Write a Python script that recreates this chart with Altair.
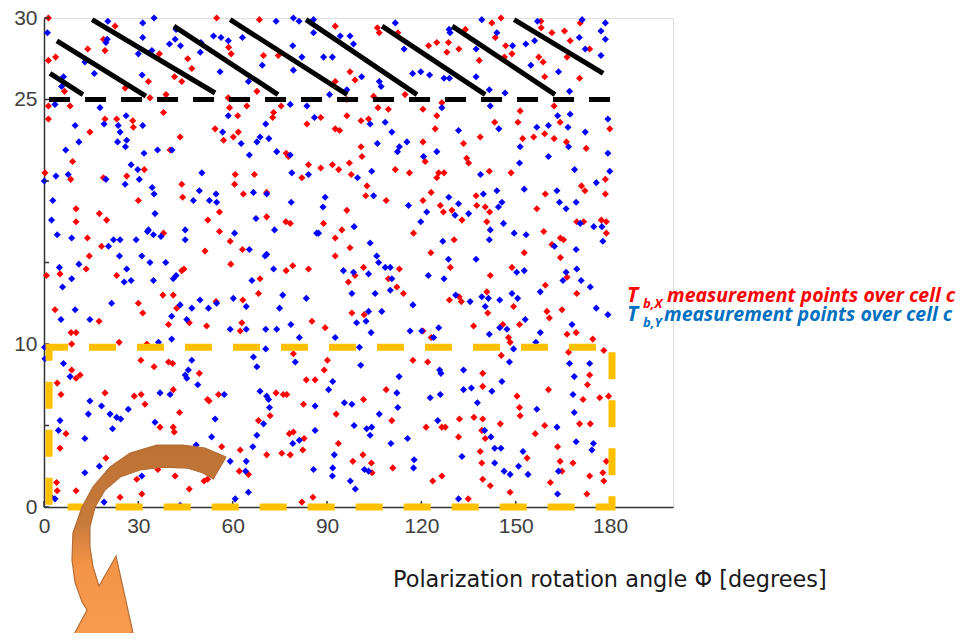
import altair as alt
import pandas as pd

# ---------------- data (phi in degrees, second value on the 0-30 scale) ----------------
red_upper = [
    [1.4,30.0],[1.4,27.4],[3.7,27.6],[13.9,28.1],[19.4,28.0],[18.9,28.7],[22.6,29.5],[36.7,27.8],
    [33.7,25.1],[38.8,25.3],[43.8,26.1],[45.7,27.5],[47.0,26.9],[41.5,26.4],[54.9,30.0],[58.7,28.2],
    [59.5,27.8],[68.5,29.9],[69.8,27.7],[74.5,27.7],[67.7,25.5],[58.6,25.1],[59.0,24.5],[61.6,24.0],
    [64.5,24.6],[73.0,24.2],[72.7,23.9],[75.4,24.6],[54.4,23.2],[60.2,22.7],[61.8,23.0],[57.1,22.5],
    [83.6,23.5],[1.4,24.6],[1.4,23.8],[8.3,24.6],[6.5,25.5],[14.6,23.0],[19.4,23.8],[23.1,23.8],
    [25.8,25.7],[28.2,23.7],[28.4,23.3],[33.2,26.1],[38.0,24.2],[43.3,22.7],[40.1,21.9],[0.3,20.5],
    [9.1,21.2],[8.5,20.1],[18.9,20.2],[26.3,20.3],[31.9,20.7],[43.8,19.8],[60.8,20.4],[60.6,19.8],
    [66.9,20.4],[77.0,21.7],[77.7,21.5],[82.0,20.2],[84.1,21.0],[44.1,19.0],[63.4,19.2],[70.8,19.3],
    [92.6,29.5],[106.0,29.4],[106.6,29.1],[112.5,29.1],[124.9,28.5],[122.3,28.3],[128.6,28.5],[128.1,27.9],
    [131.9,28.1],[134.0,29.3],[142.4,29.7],[145.3,30.0],[143.5,28.8],[146.8,28.3],[148.8,27.8],[146.4,27.6],
    [138.4,27.4],[158.0,29.8],[158.1,29.4],[161.5,29.1],[165.5,29.2],[167.3,28.6],[170.5,29.7],[166.3,27.6],
    [173.5,28.1],[157.3,27.6],[158.7,27.3],[159.2,26.4],[170.3,26.3],[97.3,26.7],[98.9,26.2],[92.6,26.1],
    [96.3,25.0],[104.8,25.2],[114.8,25.3],[126.5,24.8],[120.5,24.4],[124.9,24.0],[106.2,24.5],[109.5,24.4],
    [100.8,23.7],[103.2,23.8],[92.6,23.2],[94.0,23.1],[88.0,23.9],[96.3,24.0],[124.4,23.2],[133.4,22.3],
    [138.7,22.7],[143.3,23.6],[150.7,23.6],[151.4,24.3],[152.2,22.6],[155.7,22.7],[159.2,22.9],[162.2,24.6],
    [164.1,23.6],[162.2,22.6],[166.1,22.4],[172.4,22.0],[179.9,23.2],[100.8,22.1],[101.1,21.5],[97.1,21.1],
    [91.7,21.0],[93.7,20.7],[88.0,20.8],[97.7,20.4],[102.7,19.7],[102.3,19.1],[111.7,20.7],[116.2,20.5],
    [120.5,22.4],[121.2,21.2],[124.9,20.2],[125.5,20.5],[127.2,20.5],[134.4,21.4],[135.0,21.1],[123.1,19.3],
    [137.4,19.1],[141.6,20.6],[148.5,20.5],[159.4,19.2],[170.9,19.7],[172.0,19.4],[178.5,20.1],[178.5,19.2],
]
red_middle = [
    [10.2,18.3],[10.2,17.5],[17.6,18.0],[19.9,17.6],[13.8,16.5],[14.4,15.4],[18.3,16.0],[13.4,14.6],
    [0.8,14.2],[5.1,14.3],[23.1,14.2],[30.0,18.8],[38.0,16.8],[43.8,14.5],[44.5,14.6],[37.8,13.0],
    [41.1,13.0],[30.0,12.5],[31.4,11.9],[17.5,11.4],[3.5,12.1],[51.2,15.7],[52.1,17.6],[55.8,16.9],
    [55.8,18.1],[59.2,16.3],[63.1,15.8],[59.4,14.9],[63.2,12.7],[68.2,13.1],[68.7,14.0],[70.8,17.8],
    [76.9,17.5],[78.3,17.4],[77.0,14.5],[79.1,14.8],[84.1,14.6],[62.9,11.3],[51.7,11.1],[46.2,11.3],
    [39.6,11.2],[42.2,12.2],[54.7,12.6],[85.2,11.4],
    [108.8,18.8],[96.3,18.2],[88.9,17.4],[92.6,16.5],[94.7,17.0],[97.3,15.9],[92.6,15.4],[96.8,13.8],
    [98.9,14.2],[101.6,14.7],[109.5,14.0],[113.0,14.6],[112.2,13.5],[114.3,13.1],[97.9,11.9],[101.8,11.8],
    [117.5,16.8],[120.5,18.8],[126.0,18.5],[127.0,18.1],[130.4,16.4],[129.2,14.7],[129.7,18.2],[132.9,17.6],
    [123.0,15.6],[128.9,12.7],[132.0,12.9],[132.7,12.6],[137.6,18.5],[140.3,18.4],[140.8,17.5],[141.7,18.1],
    [141.9,14.2],[140.8,13.2],[148.8,14.7],[152.7,15.6],[149.3,12.3],[151.2,11.2],[156.7,18.3],[158.9,16.9],
    [161.5,16.1],[164.2,16.5],[165.2,16.4],[164.2,15.3],[166.3,14.1],[159.4,13.6],[159.9,12.0],[160.7,11.6],
    [164.7,12.1],[169.4,17.5],[171.6,17.5],[169.4,13.1],[177.2,17.6],[178.8,17.5],[178.8,16.8],[141.1,11.9],
]
red_lower = [
    [8.6,10.7],[10.2,10.7],[8.8,10.0],[23.9,10.1],[32.7,10.0],[8.8,8.4],[11.5,8.1],[10.2,7.9],
    [4.2,7.6],[5.4,6.9],[19.4,7.0],[28.7,6.8],[30.9,6.9],[32.1,6.3],[30.8,9.0],[35.0,8.6],
    [39.6,8.9],[40.9,8.8],[41.1,7.2],[49.4,8.2],[52.0,6.6],[52.5,6.5],[55.5,6.9],[43.1,5.8],
    [36.9,4.9],[41.1,4.9],[41.4,4.6],[29.5,1.7],[31.1,0.8],[36.2,2.3],[41.7,1.9],[46.2,1.1],
    [50.9,1.6],[52.0,1.7],[56.5,3.7],[62.4,3.5],[68.2,5.3],[71.9,5.6],[75.6,3.3],[78.3,3.2],
    [78.0,4.5],[79.3,4.6],[82.3,3.5],[82.7,4.2],[83.4,7.8],[86.2,7.8],[82.5,6.3],[77.2,6.9],
    [73.8,7.0],[76.1,6.9],[65.0,2.0],[62.1,2.2],[70.8,3.2],[85.5,0.6],[82.0,0.3],[4.0,1.5],
    [4.2,1.0],[10.2,1.0],[19.7,3.0],[24.2,0.6],[7.0,4.5],[5.1,3.6],[62.4,10.8],[79.3,9.4],
    [89.4,11.0],[90.1,9.0],[89.1,8.4],[92.9,5.7],[93.6,3.9],[98.2,2.8],[101.4,3.2],[104.1,2.7],
    [104.3,2.1],[101.6,6.6],[108.8,7.2],[110.6,5.3],[110.9,2.4],[117.3,9.0],[122.0,8.9],[120.5,10.8],
    [123.1,10.4],[136.6,11.1],[145.9,11.2],[147.7,10.4],[148.2,10.1],[145.4,9.3],[139.5,8.2],[139.5,7.4],
    [136.7,5.5],[139.5,5.4],[139.2,4.7],[140.3,4.2],[138.7,3.4],[139.2,2.7],[139.5,1.7],[145.1,5.1],
    [132.1,5.4],[131.8,4.3],[126.5,4.9],[127.6,4.9],[121.5,4.9],[123.6,1.6],[126.5,1.9],[134.9,0.5],
    [141.9,1.3],[148.2,0.9],[150.4,6.8],[151.2,6.1],[151.4,5.6],[153.6,3.0],[156.2,4.5],[159.2,5.0],
    [160.4,7.2],[161.0,1.5],[164.1,2.8],[164.7,2.2],[168.2,2.7],[163.3,3.7],[166.3,10.6],[169.2,10.7],
    [166.8,9.5],[174.5,10.3],[170.3,5.1],[173.7,5.1],[172.8,7.5],[171.4,6.6],[173.5,1.9],[172.6,0.8],
    [173.5,8.1],[176.7,6.7],[179.5,6.8],[178.0,9.6],[177.7,2.1],[178.0,1.6],[178.8,2.8],
]
blue_upper = [
    [1.1,29.1],[20.3,29.8],[31.4,29.7],[35.0,30.0],[19.7,28.5],[20.1,28.7],[31.4,28.8],[30.0,27.8],
    [34.3,28.0],[39.9,28.4],[41.7,28.7],[43.4,28.3],[42.0,29.3],[49.9,28.5],[49.7,27.9],[53.9,28.9],
    [56.3,28.8],[58.6,28.6],[63.1,28.8],[73.8,29.8],[79.3,30.0],[81.1,29.8],[79.1,28.3],[79.3,26.8],
    [82.0,27.6],[69.4,27.1],[65.0,26.1],[56.0,26.7],[31.2,26.5],[16.0,26.6],[13.0,27.3],[6.2,26.4],
    [5.6,25.8],[3.5,24.7],[17.8,24.5],[19.1,23.5],[23.6,23.4],[24.2,23.0],[26.1,24.0],[31.4,23.4],
    [23.4,22.4],[26.3,22.5],[25.9,22.1],[9.9,23.4],[11.1,22.4],[6.9,21.9],[7.7,20.4],[3.8,20.3],
    [0.1,20.0],[19.7,20.1],[25.8,19.8],[27.7,21.0],[29.8,20.7],[30.3,20.1],[31.8,21.7],[36.1,21.9],
    [40.7,21.9],[34.4,19.6],[35.0,19.2],[50.2,20.5],[49.4,19.4],[54.7,19.2],[56.8,23.0],[58.6,24.0],
    [62.7,22.3],[65.3,21.6],[67.7,22.4],[68.7,22.7],[71.5,22.6],[70.5,23.5],[74.0,21.8],[78.3,21.6],
    [78.8,20.5],[84.1,20.4],[83.6,24.6],[78.3,24.7],[66.6,19.3],[70.8,19.2],
    [85.7,29.9],[85.7,29.1],[97.3,28.9],[98.4,28.4],[94.2,28.9],[111.7,29.7],[114.5,28.1],[128.8,29.3],
    [129.1,29.1],[137.4,28.1],[139.2,29.9],[144.0,29.1],[149.0,28.3],[153.2,28.4],[156.0,28.6],[156.9,29.8],
    [171.1,29.9],[170.2,28.8],[172.1,28.1],[177.1,29.2],[178.5,28.7],[178.5,29.7],[177.1,27.7],[154.8,27.1],
    [163.6,26.7],[167.1,25.5],[137.4,26.4],[141.6,25.6],[146.6,25.4],[127.2,26.3],[128.9,26.3],[122.6,26.5],
    [119.8,26.7],[117.2,26.6],[101.0,26.4],[106.6,26.1],[107.2,25.8],[96.3,25.6],[90.8,25.3],[88.9,27.6],
    [91.7,27.6],[86.0,23.9],[103.7,23.5],[108.5,23.6],[110.6,23.0],[106.0,22.3],[113.0,22.1],[112.4,21.8],
    [115.4,22.4],[124.9,21.8],[120.7,21.5],[131.8,23.1],[144.6,23.2],[141.9,24.6],[126.5,24.5],[151.4,22.1],
    [156.7,23.3],[160.4,23.4],[166.6,23.3],[167.3,24.1],[163.3,24.0],[166.8,22.1],[172.1,23.0],[179.3,23.8],
    [179.3,21.7],[179.9,20.6],[175.6,19.9],[168.7,20.7],[160.4,21.5],[151.2,21.1],[138.8,20.4],[139.7,19.2],
    [144.0,19.4],[152.7,19.5],[163.1,19.4],[128.7,19.0],[104.2,20.6],[99.7,20.2],[104.8,19.1],[89.4,19.0],
]
blue_middle = [
    [2.8,18.8],[2.4,17.6],[4.2,16.7],[8.8,16.5],[11.1,14.9],[4.9,14.7],[5.9,13.5],[8.8,14.0],
    [9.9,12.1],[5.4,11.5],[14.6,11.5],[21.5,12.5],[24.2,16.4],[22.1,16.4],[20.5,16.0],[24.0,15.4],
    [26.3,14.6],[25.5,13.8],[27.7,13.9],[31.1,15.4],[29.3,16.4],[33.7,15.0],[34.8,13.9],[33.2,17.0],
    [32.9,16.9],[34.8,16.7],[35.3,18.0],[37.2,16.6],[38.7,15.0],[42.0,14.2],[41.1,14.0],[43.3,12.4],
    [47.0,12.2],[40.6,11.7],[45.4,11.5],[49.6,12.7],[52.3,12.2],[54.9,12.5],[44.9,17.0],[44.9,16.4],
    [47.5,18.8],[52.6,18.8],[54.9,18.7],[60.6,16.8],[65.3,15.8],[67.4,17.7],[70.3,15.4],[70.8,15.5],
    [73.3,17.0],[73.0,14.6],[75.9,13.0],[74.9,12.2],[78.6,18.7],[66.1,13.9],[64.3,12.3],[60.2,12.8],
    [83.4,12.8],[86.7,16.8],[78.5,11.2],
    [88.7,18.4],[98.6,17.2],[87.3,16.8],[103.7,16.2],[105.8,15.4],[106.4,15.0],[108.5,14.7],[110.1,14.7],
    [110.6,14.0],[95.2,14.5],[98.4,14.4],[103.2,14.3],[97.9,13.1],[105.3,13.1],[110.1,13.3],[117.3,12.4],
    [107.4,12.0],[103.2,12.0],[102.4,11.4],[99.4,11.3],[115.9,18.5],[121.7,18.1],[119.8,17.5],[126.8,16.3],
    [128.6,15.2],[127.2,14.0],[122.2,14.2],[131.8,18.6],[130.7,17.9],[135.0,18.0],[145.6,18.7],[144.5,18.4],
    [141.9,17.0],[141.6,16.4],[137.4,15.2],[146.1,17.4],[149.5,16.8],[153.3,16.7],[150.3,14.4],[152.7,14.5],
    [148.8,13.1],[150.6,12.8],[144.9,12.7],[139.2,12.9],[141.3,12.8],[140.3,12.3],[135.5,12.6],[130.9,13.0],
    [157.8,13.2],[165.0,13.9],[166.0,14.4],[170.8,13.9],[173.7,13.5],[169.4,14.6],[169.2,15.8],[162.3,16.0],
    [163.9,18.7],[166.0,18.3],[169.2,18.7],[177.7,16.3],[177.4,17.2],[174.8,17.2],[170.5,17.4],[175.6,12.2],
    [179.3,11.8],[167.9,11.2],[153.0,11.5],
]
blue_lower = [
    [0.2,9.8],[0.3,9.1],[6.2,8.8],[8.3,8.0],[14.1,5.7],[14.6,6.5],[18.3,6.2],[21.0,5.7],
    [23.1,5.5],[24.4,5.4],[26.8,6.0],[21.8,4.8],[13.0,4.2],[5.1,5.3],[4.6,4.7],[36.9,7.0],
    [40.1,6.9],[35.3,5.2],[36.4,10.1],[40.6,10.3],[47.0,9.0],[45.9,8.4],[44.9,8.1],[45.4,7.9],
    [48.9,7.5],[48.4,3.8],[53.3,4.3],[54.4,5.4],[57.3,6.9],[59.2,2.8],[60.8,0.5],[64.3,2.8],
    [64.1,2.2],[65.0,0.9],[66.4,3.7],[67.7,4.4],[69.8,5.1],[71.4,6.6],[71.7,6.1],[68.7,7.1],
    [70.8,6.8],[66.6,9.2],[67.7,8.6],[59.2,10.9],[64.3,10.9],[70.5,10.9],[74.0,10.9],[70.5,9.7],
    [81.2,10.4],[79.9,8.9],[79.1,3.9],[81.2,4.1],[85.7,2.3],[86.2,4.7],[86.2,6.2],[13.0,2.1],
    [17.6,2.5],[31.1,1.9],[2.4,0.6],[3.5,0.5],[19.1,0.3],[43.3,0.1],
    [92.6,10.4],[104.0,10.7],[116.4,10.8],[120.1,10.8],[123.9,10.4],[125.5,11.0],[100.7,8.7],[100.3,9.8],
    [91.8,7.7],[90.5,7.2],[95.5,6.4],[97.9,6.3],[91.8,2.4],[91.7,1.9],[92.3,3.2],[97.4,1.6],
    [99.0,1.1],[101.9,2.3],[103.2,2.2],[104.2,4.9],[102.6,4.8],[98.6,5.0],[103.7,4.4],[106.6,5.7],
    [110.3,3.9],[112.2,7.0],[112.5,6.1],[112.9,8.0],[115.6,4.2],[117.7,2.9],[117.5,2.4],[122.8,6.7],
    [126.0,6.9],[125.8,8.4],[126.2,8.2],[125.2,5.3],[132.9,3.1],[133.4,7.2],[135.9,7.3],[133.4,8.4],
    [131.8,0.5],[137.8,6.4],[140.1,4.7],[142.1,4.3],[142.4,7.1],[141.6,10.6],[144.9,11.0],[147.2,10.9],
    [148.0,8.9],[145.6,7.7],[149.3,9.7],[156.4,10.1],[157.8,10.7],[167.1,8.8],[168.6,8.0],[168.2,6.9],
    [168.6,5.8],[163.1,4.9],[169.2,4.0],[174.7,3.9],[174.2,3.5],[173.5,8.8],[163.3,0.8],[156.7,6.0],
    [143.3,3.6],[145.3,3.6],[143.3,2.7],[146.3,2.2],[148.2,2.0],[150.9,2.5],[152.3,3.4],[153.9,2.0],
    [163.6,2.2],
]

x_ticks = [0, 30, 60, 90, 120, 150, 180]
y_ticks = [0, 5, 10, 15, 20, 25, 30]
y_labelled = [0, 10, 25, 30]

# annotation geometry (data units)
hatch_x1 = [1.9, 4.1, 15.3, 41.3, 59.2, 83.3, 107.5, 129.8, 149.5]
hatch_y1 = [26.6, 28.6, 29.9, 29.5, 29.9, 29.9, 29.5, 29.5, 29.9]
hatch_x2 = [12.4, 32.4, 54.4, 74.4, 96.4, 118.6, 140.3, 162.5, 177.8]
hatch_y2 = [25.3, 25.2, 25.4, 25.3, 25.3, 25.3, 25.3, 25.3, 26.6]
threshold = 25
threshold_span = [1.6, 180.6]
box_x = [1.6, 180.6]
box_y = [0, 9.8]
arrow_x = [57.9, 51.2, 44.2, 35.9, 27.4, 21.0, 15.6, 12.1, 9.2, 8.9, 9.9, 12.1, 13.7, 8.9, 28.3,
           22.9, 17.5, 15.6, 14.6, 14.6, 16.2, 19.4, 24.2, 30.5, 37.8, 45.5, 50.6, 53.8, 57.9]
arrow_y = [3.07, 3.62, 3.80, 3.80, 3.31, 2.45, 1.23, 0.0, -1.60, -3.25, -4.66, -5.83, -6.32, -8.04, -7.73,
           -3.01, -4.85, -3.68, -2.45, -1.23, 0.0, 1.04, 1.84, 2.27, 2.45, 2.39, 2.09, 1.72, 3.07]

legend_x_text = "measurement points over cell c"
title_text = "Polarization rotation angle \u03a6 [degrees]"

# ---------------- chart ----------------
W, H = 629, 489
xs = alt.Scale(domain=[0, 200], nice=False, zero=False)
ys = alt.Scale(domain=[0, 30], nice=False, zero=False)


def frame(pairs, series):
    return pd.DataFrame({"phi": [p[0] for p in pairs], "val": [p[1] for p in pairs], "series": series})


pts = pd.concat([
    frame(red_upper, "X"), frame(red_middle, "X"), frame(red_lower, "X"),
    frame(blue_upper, "Y"), frame(blue_middle, "Y"), frame(blue_lower, "Y"),
], ignore_index=True)

label_test = "indexof([" + ",".join(str(v) for v in y_labelled) + "], datum.value) >= 0 ? datum.label : ''"
x_axis = alt.Axis(values=x_ticks, title=None, grid=False, ticks=False, tickSize=0,
                  labelFont="Liberation Sans", labelFontSize=21, labelColor="#404040",
                  labelPadding=8, domainColor="#333333", domainWidth=1.5, labelFlush=False,
                  labelOverlap=False)
y_axis = alt.Axis(values=y_ticks, title=None, grid=False, ticks=False, tickSize=0,
                  labelExpr=label_test,
                  labelFont="Liberation Sans", labelFontSize=21, labelColor="#404040",
                  labelPadding=7, domainColor="#333333", domainWidth=1.5, labelOverlap=False)


def X(field):
    return alt.X(field, scale=xs, axis=x_axis, title=None)


def Y(field):
    return alt.Y(field, scale=ys, axis=y_axis, title=None)


points = alt.Chart(pts).mark_point(shape="diamond", filled=True, size=50, opacity=1).encode(
    x=X("phi:Q"),
    y=Y("val:Q"),
    color=alt.Color("series:N", scale=alt.Scale(domain=["X", "Y"], range=["#ff0000", "#0000ff"]), legend=None),
)

xt = alt.Chart(pd.DataFrame({"v": x_ticks})).mark_rule(color="#333333", strokeWidth=1.5).encode(
    x=X("v:Q"), y=alt.value(H), y2=alt.value(H - 6))
yt = alt.Chart(pd.DataFrame({"v": y_ticks})).mark_rule(color="#333333", strokeWidth=1.5).encode(
    y=Y("v:Q"), x=alt.value(0), x2=alt.value(5))

hatch = alt.Chart(pd.DataFrame({"x1": hatch_x1, "y1": hatch_y1, "x2": hatch_x2, "y2": hatch_y2})).mark_rule(
    color="black", strokeWidth=5, strokeCap="butt").encode(
    x=X("x1:Q"), y=Y("y1:Q"), x2="x2:Q", y2="y2:Q")

thr = alt.Chart(pd.DataFrame({"a": [threshold_span[0]], "b": [threshold_span[1]], "y": [threshold]})).mark_rule(
    color="black", strokeWidth=5, strokeDash=[21, 15], strokeCap="butt").encode(
    x=X("a:Q"), x2="b:Q", y=Y("y:Q"))

box = alt.Chart(pd.DataFrame({"a": [box_x[0]], "b": [box_x[1]], "c": [box_y[0]], "d": [box_y[1]]})).mark_rect(
    fill="white", fillOpacity=0, stroke="#FFC000", strokeWidth=7, strokeDash=[27, 21], strokeDashOffset=8).encode(
    x=X("a:Q"), x2="b:Q", y=Y("c:Q"), y2="d:Q")

arrow = alt.Chart(pd.DataFrame({"i": list(range(len(arrow_x))), "ax": arrow_x, "ay": arrow_y})).mark_line(
    fill=alt.Gradient(gradient="linear", x1=0, x2=0, y1=0, y2=1,
                      stops=[alt.GradientStop(color="#BD7234", offset=0),
                             alt.GradientStop(color="#C77A3A", offset=0.4),
                             alt.GradientStop(color="#F39447", offset=0.62),
                             alt.GradientStop(color="#F89C50", offset=1)]),
    stroke="#B46C35", strokeWidth=1.2, strokeJoin="miter").encode(
    x=X("ax:Q"), y=Y("ay:Q"), order="i:Q")


def label(text, px, py, size, color, style="italic", weight="bold", font="Open Sans"):
    return alt.Chart(pd.DataFrame({"t": [text]})).mark_text(
        align="left", baseline="alphabetic", font=font, fontSize=size, fontStyle=style,
        fontWeight=weight, color=color).encode(text="t:N", x=alt.value(px), y=alt.value(py))


texts = [
    label("T", 583, 284, 21, "#ff0000"),
    label("b,X", 599, 290, 13, "#ff0000"),
    label(legend_x_text, 623, 284, 19.5, "#ff0000"),
    label("T", 583, 303, 21, "#0070c0"),
    label("b,Y", 599, 309, 13, "#0070c0"),
    label(legend_x_text, 620, 303, 19.5, "#0070c0"),
    label(title_text, 349, 569, 22.4, "#1a1a1a", style="normal", weight="normal", font="DejaVu Sans"),
]

chart = alt.layer(points, xt, yt, hatch, thr, box, arrow, *texts).properties(
    width=W, height=H,
    autosize=alt.AutoSizeParams(type="none"),
    padding={"left": 36, "top": 10, "right": 286, "bottom": 126},
).configure_view(strokeWidth=0).configure(background="white")

chart.save("out.html", embed_options={"renderer": "svg", "actions": False})
